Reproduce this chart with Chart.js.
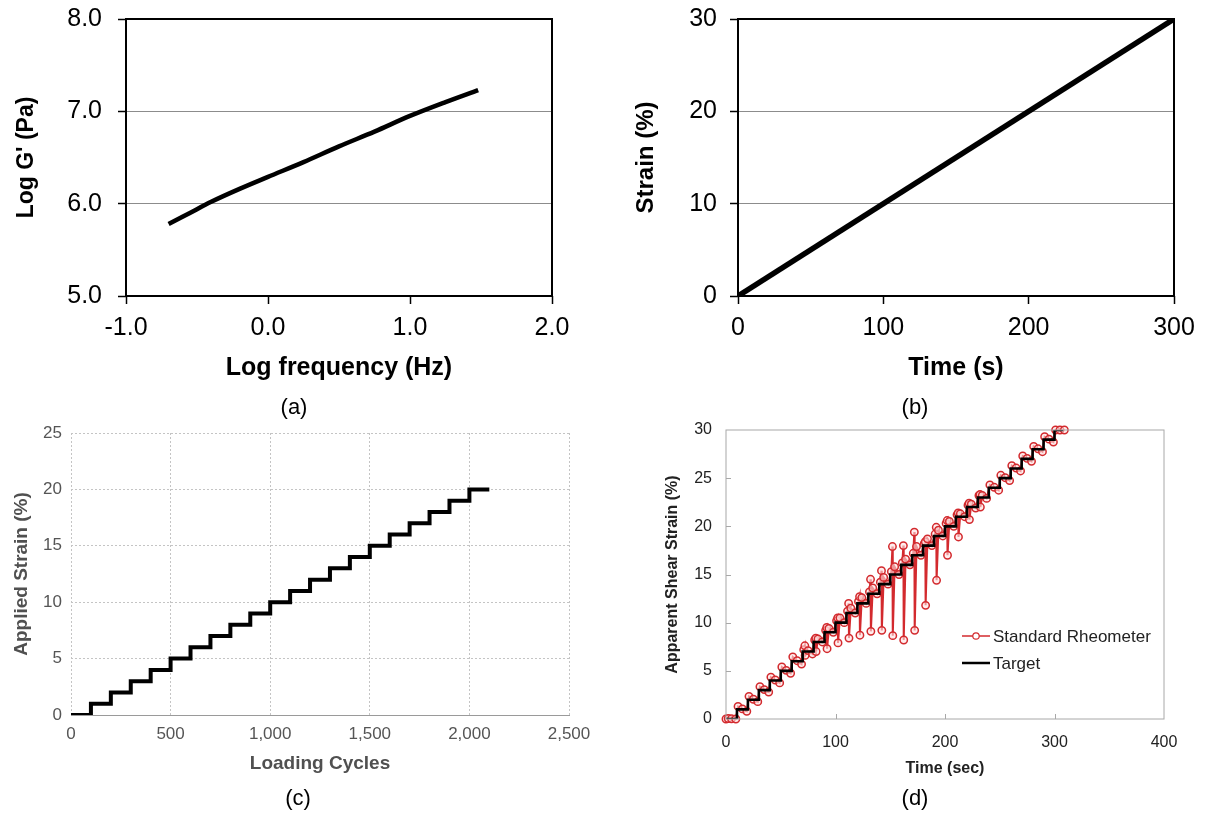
<!DOCTYPE html>
<html><head><meta charset="utf-8">
<script src="https://cdn.jsdelivr.net/npm/chart.js@4.4.1/dist/chart.umd.min.js"></script>
<style>
html,body{margin:0;padding:0;background:#fff;width:1206px;height:814px;overflow:hidden;font-family:"Liberation Sans",Arial,sans-serif;}
.panel{position:absolute;}
.cap{position:absolute;font-size:22px;line-height:22px;color:#000;transform:translateX(-50%);white-space:nowrap;}
</style></head><body>
<div class="panel" style="left:0;top:0;"><canvas id="ca" width="600" height="390"></canvas></div>
<div class="panel" style="left:600px;top:0;"><canvas id="cb" width="606" height="390"></canvas></div>
<div class="panel" style="left:0;top:415px;"><canvas id="cc" width="600" height="375"></canvas></div>
<div class="panel" style="left:640px;top:415px;"><canvas id="cd" width="566" height="380"></canvas></div>
<div class="cap" style="left:294px;top:396px">(a)</div>
<div class="cap" style="left:915px;top:396px">(b)</div>
<div class="cap" style="left:298px;top:787px">(c)</div>
<div class="cap" style="left:915px;top:787px">(d)</div>
<script>
// ---------- (a) Log G' vs log frequency ----------
const aLogFreq = [-0.7, -0.55, -0.4, -0.2, 0.0, 0.25, 0.5, 0.75, 1.0, 1.25, 1.48];
const aLogG    = [5.78, 5.90, 6.02, 6.16, 6.29, 6.45, 6.62, 6.78, 6.95, 7.10, 7.23];
const aXTicks = [-1, 0, 1, 2];
const aYTicks = [5, 6, 7, 8];

// ---------- (b) Strain vs time ----------
const bTime   = [0, 300];
const bStrain = [0, 30];
const bXTicks = [0, 100, 200, 300];
const bYTicks = [0, 10, 20, 30];

// ---------- (c) Applied strain vs loading cycles ----------
const cCycles = [0,100,200,300,400,500,600,700,800,900,1000,1100,1200,1300,1400,1500,1600,1700,1800,1900,2000,2100];
const cStrain = [0,1,2,3,4,5,6,7,8,9,10,11,12,13,14,15,16,17,18,19,20,20];
const cXTicks = [0, 500, 1000, 1500, 2000, 2500];
const cYTicks = [0, 5, 10, 15, 20, 25];

// ---------- (d) Apparent shear strain vs time ----------
const dTargetTime   = [0,10,20,30,40,50,60,70,80,90,100,110,120,130,140,150,160,170,180,190,200,210,220,230,240,250,260,270,280,290,300,308];
const dTargetStrain = [0,1,2,3,4,5,6,7,8,9,10,11,12,13,14,15,16,17,18,19,20,21,22,23,24,25,26,27,28,29,30,30];
const dRheoTime = [
  0,2,5,9,
  11,15,19, 21,25,29, 31,35,39, 41,45,49, 51,55,59, 61,65,69,
  71,72,72.3,75,79,
  81,82,82.3,84,88,
  91,92,92.3,94,98,
  101,102,102.3,104,108,
  111,112,112.3,114,118,
  121,122,122.3,124,128,
  131,132,132.3,134,138,
  141,142,142.3,144,148,
  151,152,152.3,154,158,
  161,162,162.3,164,168,
  171,172,172.3,174,178,
  181,182,182.3,184,188,
  191,192,192.3,194,198,
  201,202,202.3,204,208,
  211,212,212.3,214,218,
  221,222,222.3,224,228,
  231,232,232.3,234,238,
  241,245,249, 251,255,259, 261,265,269, 271,275,279, 281,285,289, 291,295,299,
  301,305,309
];
const dRheoStrain = [
  0,0.05,0.02,0,
  1.3,1.05,0.8, 2.35,2.05,1.8, 3.35,3.05,2.8, 4.35,4.05,3.75, 5.4,5.05,4.75, 6.45,6.05,5.7,
  7.2,7.6,6.6,7.1,6.75,
  8.2,8.4,7.0,8.3,8.0,
  9.2,9.5,7.3,9.4,9.0,
  10.2,10.5,7.9,10.5,10.0,
  11.2,12.0,8.4,11.5,11.0,
  12.2,12.7,8.7,12.6,12.0,
  13.2,14.5,9.1,13.6,13.0,
  14.2,15.4,9.2,14.7,14.0,
  15.3,17.9,8.65,15.8,15.0,
  16.2,18.0,8.2,16.6,16.0,
  17.2,19.4,9.2,17.9,17.0,
  18.2,18.4,11.8,18.7,18.0,
  19.2,19.9,14.4,19.6,19.0,
  20.3,20.6,17.0,20.5,20.0,
  21.2,21.4,18.9,21.3,21.0,
  22.2,22.4,20.7,22.3,21.9,
  23.2,23.3,22.0,23.2,22.9,
  24.3,24.05,23.75, 25.3,25.05,24.75, 26.3,26.05,25.75, 27.3,27.05,26.75, 28.3,28.05,27.75, 29.3,29.05,28.75,
  30.0,30.0,30.0
];
const dXTicks = [0, 100, 200, 300, 400];
const dYTicks = [0, 5, 10, 15, 20, 25, 30];

const FONT = '"Liberation Sans", Arial, sans-serif';
Chart.defaults.font.family = FONT;
Chart.defaults.animation = false;

const pts = (xs, ys) => xs.map((x, i) => ({x, y: ys[i]}));
const setTicks = arr => (s => { s.ticks = arr.map(v => ({value: v})); });
const fixSize = (prop, val) => (s => { s[prop] = val; s.paddingTop = 0; s.paddingBottom = 0; s.paddingLeft = 0; s.paddingRight = 0; });

// frame around the plot area
const framePlugin = {
  id: 'frame',
  afterDraw(chart, args, o) {
    if (!o || !o.color) return;
    const {ctx, chartArea: a} = chart;
    ctx.save();
    ctx.strokeStyle = o.color; ctx.lineWidth = o.width;
    ctx.strokeRect(a.left, a.top, a.right - a.left, a.bottom - a.top);
    ctx.restore();
  }
};
// small tick marks pointing inwards
const innerTicks = {
  id: 'innerTicks',
  afterDraw(chart, args, o) {
    if (!o || !o.len) return;
    const {ctx, chartArea: a, scales: {x, y}} = chart;
    ctx.save(); ctx.strokeStyle = o.color; ctx.lineWidth = 1;
    y.ticks.forEach(t => {
      const p = Math.round(y.getPixelForValue(t.value)) + 0.5;
      if (p > a.top + 2 && p < a.bottom - 2) { ctx.beginPath(); ctx.moveTo(a.left, p); ctx.lineTo(a.left + o.len, p); ctx.stroke(); }
    });
    x.ticks.forEach(t => {
      const p = Math.round(x.getPixelForValue(t.value)) + 0.5;
      if (p > a.left + 2 && p < a.right - 2) { ctx.beginPath(); ctx.moveTo(p, a.bottom); ctx.lineTo(p, a.bottom - o.len); ctx.stroke(); }
    });
    ctx.restore();
  }
};
// legend drawn inside the plot area
const innerLegend = {
  id: 'innerLegend',
  afterDraw(chart, args, o) {
    if (!o || !o.rows) return;
    const ctx = chart.ctx;
    ctx.save();
    ctx.font = o.fontSize + 'px ' + FONT;
    ctx.textBaseline = 'middle'; ctx.textAlign = 'left'; ctx.fillStyle = o.textColor;
    o.rows.forEach((r, i) => {
      const ds = chart.data.datasets[r];
      const y = o.y + i * o.dy;
      ctx.strokeStyle = ds.borderColor; ctx.lineWidth = ds.legendLineWidth || ds.borderWidth;
      ctx.beginPath(); ctx.moveTo(o.x, y); ctx.lineTo(o.x + o.len, y); ctx.stroke();
      if (ds.pointRadius > 0) {
        ctx.beginPath(); ctx.arc(o.x + o.len / 2, y, 3.2, 0, Math.PI * 2);
        ctx.fillStyle = '#fff'; ctx.fill();
        ctx.lineWidth = 1.2; ctx.strokeStyle = ds.pointBorderColor; ctx.stroke();
        ctx.fillStyle = o.textColor;
      }
      ctx.fillText(ds.label, o.x + o.len + 3, y + 1);
    });
    ctx.restore();
  }
};

// ---------- Panel (a) ----------
new Chart(document.getElementById('ca'), {
  type: 'line',
  data: {datasets: [{data: pts(aLogFreq, aLogG), borderColor: '#000', borderWidth: 4.5, pointRadius: 0, cubicInterpolationMode: 'monotone', borderCapStyle: 'butt'}]},
  plugins: [framePlugin],
  options: {
    responsive: false, devicePixelRatio: 1,
    layout: {padding: {left: 0, right: 48, top: 19, bottom: 0}},
    plugins: {legend: {display: false}, tooltip: {enabled: false}, frame: {color: '#000', width: 2}},
    scales: {
      x: {type: 'linear', min: -1, max: 2, afterBuildTicks: setTicks(aXTicks), afterFit: fixSize('height', 94),
        grid: {drawOnChartArea: false, drawTicks: true, tickLength: 8, tickColor: '#000', tickWidth: 1.5},
        border: {display: false},
        ticks: {color: '#000', font: {size: 25}, padding: 9, maxRotation: 0, callback: v => v.toFixed(1)},
        title: {display: true, text: 'Log frequency (Hz)', color: '#000', font: {size: 25, weight: 'bold'}, padding: {top: 0, bottom: 7}}},
      y: {type: 'linear', min: 5, max: 8, afterBuildTicks: setTicks(aYTicks), afterFit: fixSize('width', 126),
        grid: {color: '#8c8c8c', lineWidth: 1, tickLength: 8, tickColor: '#000', tickWidth: 1.5},
        border: {display: false},
        ticks: {color: '#000', font: {size: 25}, padding: 16, callback: v => v.toFixed(1)},
        title: {display: true, text: "Log G' (Pa)", color: '#000', font: {size: 23, weight: 'bold'}, padding: {top: 13, bottom: 0}}}
    }
  }
});

// ---------- Panel (b) ----------
new Chart(document.getElementById('cb'), {
  type: 'line',
  data: {datasets: [{data: pts(bTime, bStrain), borderColor: '#000', borderWidth: 5.5, pointRadius: 0, borderCapStyle: 'butt'}]},
  plugins: [framePlugin],
  options: {
    responsive: false, devicePixelRatio: 1,
    layout: {padding: {left: 0, right: 32, top: 19, bottom: 0}},
    plugins: {legend: {display: false}, tooltip: {enabled: false}, frame: {color: '#000', width: 2}},
    scales: {
      x: {type: 'linear', min: 0, max: 300, afterBuildTicks: setTicks(bXTicks), afterFit: fixSize('height', 94),
        grid: {drawOnChartArea: false, drawTicks: true, tickLength: 8, tickColor: '#000', tickWidth: 1.5},
        border: {display: false},
        ticks: {color: '#000', font: {size: 25}, padding: 9, maxRotation: 0},
        title: {display: true, text: 'Time (s)', color: '#000', font: {size: 25, weight: 'bold'}, padding: {top: 0, bottom: 7}}},
      y: {type: 'linear', min: 0, max: 30, afterBuildTicks: setTicks(bYTicks), afterFit: fixSize('width', 138),
        grid: {color: '#8c8c8c', lineWidth: 1, tickLength: 8, tickColor: '#000', tickWidth: 1.5},
        border: {display: false},
        ticks: {color: '#000', font: {size: 25}, padding: 13},
        title: {display: true, text: 'Strain (%)', color: '#000', font: {size: 24, weight: 'bold'}, padding: {top: 32, bottom: 0}}}
    }
  }
});

// ---------- Panel (c) ----------
new Chart(document.getElementById('cc'), {
  type: 'line',
  data: {datasets: [{data: pts(cCycles, cStrain), stepped: 'before', borderColor: '#000', borderWidth: 4, pointRadius: 0, borderJoinStyle: 'miter'}]},
  options: {
    responsive: false, devicePixelRatio: 1,
    layout: {padding: {left: 0, right: 31, top: 18, bottom: 0}},
    plugins: {legend: {display: false}, tooltip: {enabled: false}},
    scales: {
      x: {type: 'linear', min: 0, max: 2500, afterBuildTicks: setTicks(cXTicks), afterFit: fixSize('height', 75),
        grid: {color: '#c4c4c4', lineWidth: 1, drawTicks: false},
        border: {display: true, color: '#9a9a9a', width: 1, dash: [2, 2]},
        ticks: {color: '#555', font: {size: 17}, padding: 9, maxRotation: 0, callback: v => v.toLocaleString('en-US')},
        title: {display: true, text: 'Loading Cycles', color: '#505050', font: {size: 19, weight: 'bold'}, padding: {top: 0, bottom: 15}}},
      y: {type: 'linear', min: 0, max: 25, afterBuildTicks: setTicks(cYTicks), afterFit: fixSize('width', 71),
        grid: {color: '#c4c4c4', lineWidth: 1, drawTicks: false},
        border: {display: false, dash: [2, 2]},
        ticks: {color: '#555', font: {size: 17}, padding: 9},
        title: {display: true, text: 'Applied Strain (%)', color: '#505050', font: {size: 19, weight: 'bold'}, padding: {top: 10, bottom: 0}}}
    }
  }
});

// ---------- Panel (d) ----------
const RED = '#d32a2e';
new Chart(document.getElementById('cd'), {
  type: 'line',
  data: {datasets: [
    {label: 'Target', data: pts(dTargetTime, dTargetStrain), stepped: 'before', borderColor: '#000', borderWidth: 2.6, legendLineWidth: 2.5, pointRadius: 0},
    {label: 'Standard Rheometer', data: pts(dRheoTime, dRheoStrain), borderColor: RED, borderWidth: 2, legendLineWidth: 1.5,
      pointRadius: 3.7, pointBorderWidth: 1.5, pointBorderColor: RED, pointBackgroundColor: 'rgba(255,225,225,0.6)', clip: 6}
  ]},
  plugins: [framePlugin, innerTicks, innerLegend],
  options: {
    responsive: false, devicePixelRatio: 1,
    layout: {padding: {left: 0, right: 42, top: 15, bottom: 0}},
    plugins: {
      legend: {display: false}, tooltip: {enabled: false},
      frame: {color: '#a8a8a8', width: 1},
      innerTicks: {len: 5, color: '#a8a8a8'},
      innerLegend: {rows: [1, 0], x: 322, y: 221, dy: 27, len: 28, fontSize: 17, textColor: '#222'}
    },
    scales: {
      x: {type: 'linear', min: 0, max: 400, afterBuildTicks: setTicks(dXTicks), afterFit: fixSize('height', 76),
        grid: {display: false, drawTicks: false},
        border: {display: false},
        ticks: {color: '#222', font: {size: 16}, padding: 14, maxRotation: 0},
        title: {display: true, text: 'Time (sec)', color: '#222', font: {size: 16, weight: 'bold'}, padding: {top: 0, bottom: 17}}},
      y: {type: 'linear', min: 0, max: 30, afterBuildTicks: setTicks(dYTicks), afterFit: fixSize('width', 86),
        grid: {display: false, drawTicks: false},
        border: {display: false},
        ticks: {color: '#222', font: {size: 16}, padding: 14},
        title: {display: true, text: 'Apparent Shear Strain (%)', color: '#222', font: {size: 16, weight: 'bold'}, padding: {top: 23, bottom: 0}}}
    }
  }
});
</script>
</body></html>
